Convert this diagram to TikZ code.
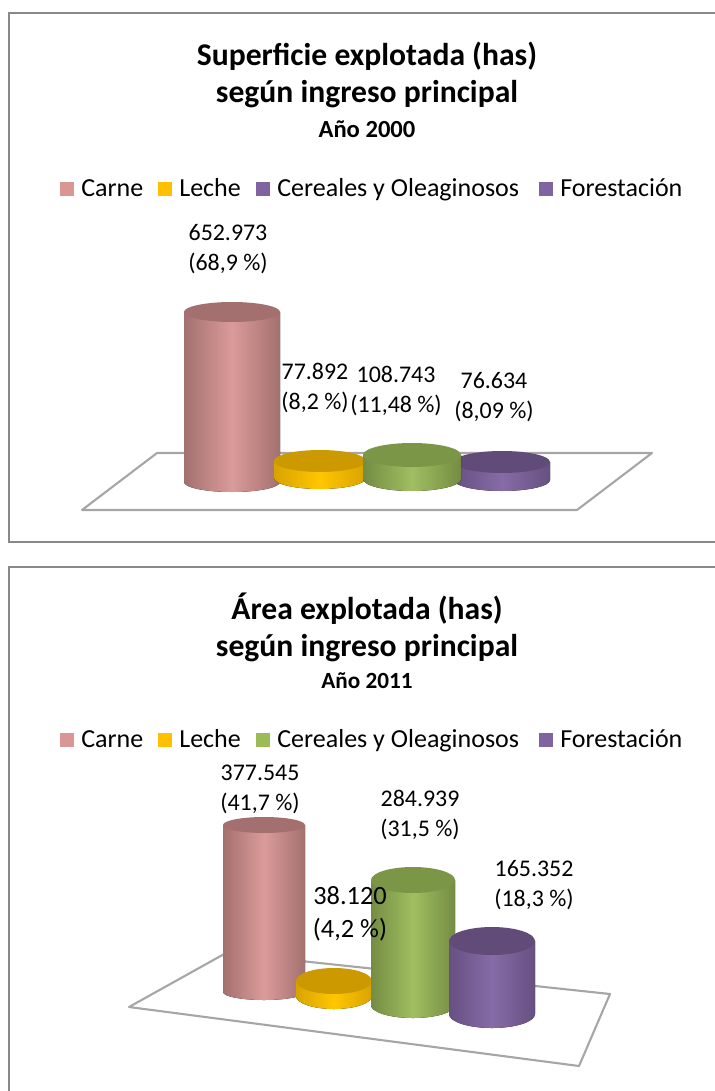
\documentclass[tikz,border=0pt]{standalone}
\usepackage{fontspec}
\setmainfont{Carlito}
\usepackage{tikz}
\usetikzlibrary{positioning}
\definecolor{frame}{RGB}{137,137,137}
\definecolor{floorgray}{RGB}{166,166,166}
\definecolor{carne}{RGB}{217,150,148}
\definecolor{leche}{RGB}{255,192,0}
\definecolor{cereal}{RGB}{155,187,89}
\definecolor{forest}{RGB}{128,100,162}

% cylinder: cx, top y, bottom y, rx, ry, edge, middle, lid
\newcommand{\cylbar}[8]{%
  \fill[left color=#6, right color=#6, middle color=#7]
    ({#1-#4},#2) -- ({#1-#4},#3) arc[start angle=180, end angle=0, x radius=#4, y radius=#5]
    -- ({#1+#4},#2) -- cycle;
  \fill[#8] (#1,#2) ellipse [x radius=#4, y radius=#5];
}

\begin{document}
\begin{tikzpicture}[x=0.02cm, y=-0.02cm,
    title/.style={font=\fontsize{18}{22}\selectfont\bfseries, inner sep=0pt},
    year/.style={font=\fontsize{14}{17}\selectfont\bfseries, inner sep=0pt},
    legtext/.style={font=\fontsize{14.8}{18}\selectfont, anchor=base west, inner sep=0pt},
    legbox/.style={minimum size=0.28cm, inner sep=0pt},
    lbl/.style={font=\fontsize{13.6}{17}\selectfont, align=center, inner sep=0pt},
    floor/.style={draw=floorgray, line width=1.2pt, line join=round}
  ]
  \useasboundingbox (0,0) rectangle (715,1091);

  % ---- chart 2000 ----
  \draw[frame, line width=0.8pt] (9,13) rectangle (730,542);
  \node[title] (title1) at (367,56) {Superficie explotada (has)};
  \node[title] (sub1) at (367,94) {según ingreso principal};
  \node[year] (year1) at (367,129) {Año 2000};

  \node[legbox, fill=carne] (k1a) at (67,189) {};
  \node[legtext] (t1a) at (81,196) {Carne};
  \node[legbox, fill=leche] (k1b) at (165,189) {};
  \node[legtext] (t1b) at (179,196) {Leche};
  \node[legbox, fill=forest] (k1c) at (263,189) {};
  \node[legtext] (t1c) at (277,196) {Cereales y Oleaginosos};
  \node[legbox, fill=forest] (k1d) at (546,189) {};
  \node[legtext] (t1d) at (560,196) {Forestación};

  \draw[floor] (157,453) -- (652,453) -- (577,510) -- (82,510) -- cycle;

  \cylbar{232}{312}{482}{48}{10}{carne!75!black}{carne!95!white}{carne!75!black}
  \cylbar{320}{461}{478}{46}{11}{leche!85!black}{leche!90!yellow}{leche!80!black}
  \cylbar{502}{462}{480}{48}{11}{forest!80!black}{forest!95!white}{forest!75!black}
  \cylbar{412}{455}{479}{49}{12}{cereal!75!black}{cereal!95!white}{cereal!80!black}

  \node[lbl] (v1a) at (228,249) {652.973\\(68,9 \%)};
  \node[lbl] (v1b) at (315,388) {77.892\\(8,2 \%)};
  \node[lbl] (v1c) at (396,391) {108.743\\(11,48 \%)};
  \node[lbl] (v1d) at (494,397) {76.634\\(8,09 \%)};

  % ---- chart 2011 ----
  \draw[frame, line width=0.8pt] (9,567) rectangle (730,1100);
  \node[title] (title2) at (367,609) {Área explotada (has)};
  \node[title] (sub2) at (367,648) {según ingreso principal};
  \node[year, font=\fontsize{13.2}{16}\selectfont\bfseries] (year2) at (367,681) {Año 2011};

  \node[legbox, fill=carne] (k2a) at (67,740) {};
  \node[legtext] (t2a) at (81,747) {Carne};
  \node[legbox, fill=leche] (k2b) at (165,740) {};
  \node[legtext] (t2b) at (179,747) {Leche};
  \node[legbox, fill=cereal] (k2c) at (263,740) {};
  \node[legtext] (t2c) at (277,747) {Cereales y Oleaginosos};
  \node[legbox, fill=forest] (k2d) at (546,740) {};
  \node[legtext] (t2d) at (560,747) {Forestación};

  \draw[floor] (129,1007) -- (226,953) -- (610,994) -- (579,1066) -- cycle;

  \cylbar{264}{825}{992}{41}{8}{carne!75!black}{carne!95!white}{carne!75!black}
  \cylbar{334}{981}{996}{38}{13}{leche!85!black}{leche!90!yellow}{leche!80!black}
  \cylbar{413}{880}{1005}{42}{13}{cereal!75!black}{cereal!95!white}{cereal!80!black}
  \cylbar{492}{941}{1014}{43}{14}{forest!80!black}{forest!95!white}{forest!75!black}

  \node[lbl] (v2a) at (260,789) {377.545\\(41,7 \%)};
  \node[lbl] (v2c) at (420,815) {284.939\\(31,5 \%)};
  \node[lbl] (v2d) at (534,885) {165.352\\(18,3 \%)};
  \node[lbl, font=\fontsize{15}{18.7}\selectfont] (v2b) at (350,914) {38.120\\(4,2 \%)};
\end{tikzpicture}
\end{document}
